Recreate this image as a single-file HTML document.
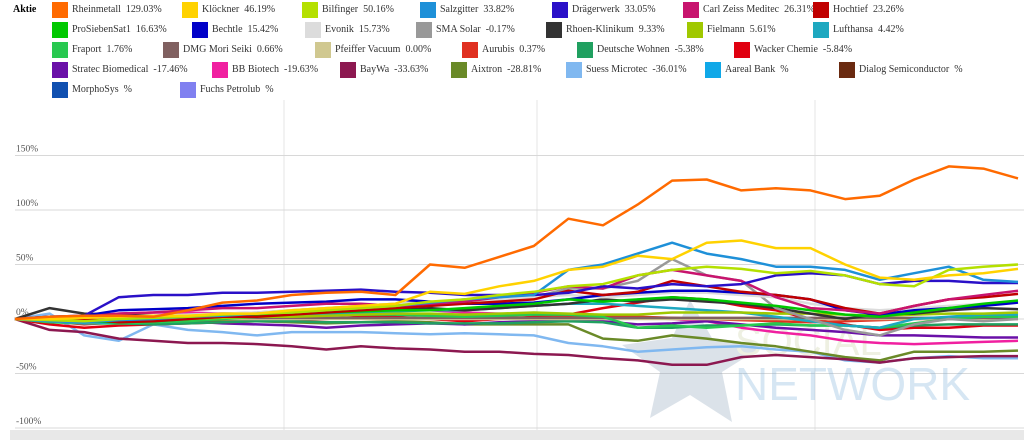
<!DOCTYPE html>
<html><head><meta charset="utf-8"><style>
body{margin:0;width:1024px;height:440px;background:#fff;overflow:hidden;position:relative;font-family:"Liberation Serif",serif;}
.lg{position:absolute;font-size:10px;color:#333;white-space:nowrap;line-height:16px}
.lg i{position:absolute;left:0;top:0;width:16px;height:16px}
.lg span{position:absolute;left:20px;top:0}
</style></head><body>
<div style="position:absolute;left:13px;top:2px;font-size:10px;font-weight:bold;line-height:16px">Aktie</div>
<div id="legend"></div>
<svg id="chart" width="1024" height="440" style="position:absolute;left:0;top:0">
<g id="grid"></g>
<g id="wm" opacity="0.3">
<polygon points="690,300 712,338 765,345 722,372 732,422 690,395 650,418 660,372 622,345 672,338" fill="#8aa0b8"/>
<text x="735" y="400" font-family="Liberation Sans,sans-serif" font-size="46" fill="#7ab0d8">NETWORK</text>
<text x="735" y="355" font-family="Liberation Sans,sans-serif" font-size="40" fill="#c8d0a0">SOCIAL</text>
</g>
<g id="lines"></g>
</svg>
<script>
const names=["Rheinmetall","Klöckner","Bilfinger","Salzgitter","Drägerwerk","Carl Zeiss Meditec","Hochtief","ProSiebenSat1","Bechtle","Evonik","SMA Solar","Rhoen-Klinikum","Fielmann","Lufthansa","Fraport","DMG Mori Seiki","Pfeiffer Vacuum","Aurubis","Deutsche Wohnen","Wacker Chemie","Stratec Biomedical","BB Biotech","BayWa","Aixtron","Suess Microtec","Aareal Bank","Dialog Semiconductor","MorphoSys","Fuchs Petrolub"];
const perf=["129.03","46.19","50.16","33.82","33.05","26.31","23.26","16.63","15.42","15.73","-0.17","9.33","5.61","4.42","1.76","0.66","0.00","0.37","-5.38","-5.84","-17.46","-19.63","-33.63","-28.81","-36.01","","","",""];
const colors=["#ff6a00","#ffd200","#b4e000","#1e90d8","#2a10c8","#c8146e","#c00000","#00c800","#0000c8","#dcdcdc","#999999","#333333","#a0c800","#1ea8c0","#28c850","#806060","#d0c890","#e03020","#20a060","#e00010","#6a10a8","#f020a0","#8c1850","#6a8a28","#80b8f0","#10a8e8","#6a2a10","#1050b0","#8080f0"];
const legendX=[52,182,302,420,552,683,813,52,192,305,416,546,687,813,52,163,315,462,577,734,52,212,340,451,566,705,839,52,180];
const legendRow=[0,0,0,0,0,0,0,1,1,1,1,1,1,1,2,2,2,2,2,2,3,3,3,3,3,3,3,4,4];
const yTicks=[150,100,50,0,-50,-100];
const s0=[0,2,3,3,2,8,15,17,22,24,25,22,50,47,57,67,92,86,105,127,128,118,120,118,110,113,128,140,138,129];
const s1=[0,0,1,2,3,3,5,5,8,10,12,14,25,23,30,35,45,48,58,55,70,72,65,65,50,38,36,40,42,46];
const s2=[0,-1,-2,0,1,2,4,5,6,8,10,12,16,18,22,25,30,32,40,45,48,46,42,44,40,32,30,45,48,50];
const s3=[0,-2,-3,-1,0,2,3,5,6,8,10,12,15,18,20,22,45,50,60,70,60,55,48,48,45,36,42,48,36,34];
const s4=[0,2,3,20,22,22,24,24,25,26,27,25,24,22,22,22,24,30,28,32,30,32,40,42,40,32,35,35,33,33];
const s5=[0,1,2,5,6,8,10,10,12,14,14,12,14,16,20,24,30,28,40,45,40,35,20,10,8,5,12,18,22,26];
const s6=[0,2,0,-3,-2,0,2,2,4,6,8,10,12,14,16,18,26,22,25,35,30,25,22,18,10,5,12,18,20,23];
const s7=[0,-1,-2,-3,-2,0,2,4,5,6,7,8,8,10,12,14,18,16,18,20,18,15,12,8,4,2,6,10,14,17];
const s8=[0,1,3,8,9,10,12,14,15,16,18,18,16,14,14,15,18,22,24,26,26,24,22,18,8,4,8,10,12,15];
const s9=[0,0,1,2,3,4,5,6,8,10,12,14,15,16,18,20,22,20,22,24,24,22,20,14,10,8,10,12,14,16];
const s10=[0,0,-2,0,2,4,5,6,8,10,12,14,16,15,18,20,28,28,35,55,40,35,10,0,-10,-15,-5,0,-2,0];
const s11=[0,10,5,4,3,4,5,5,6,7,8,8,10,8,10,12,14,18,16,18,16,14,10,5,0,5,5,8,10,9];
const s12=[0,-2,-3,-2,-1,0,1,2,2,3,4,5,5,4,5,6,5,4,4,6,6,6,5,5,4,3,4,5,5,6];
const s13=[0,-2,-4,-3,-2,0,2,3,4,5,6,7,8,8,10,12,14,14,12,10,8,6,2,-2,-6,-8,0,2,4,4];
const s14=[0,-3,-4,-4,-3,-2,0,2,3,4,4,4,3,2,3,4,4,2,-8,-6,-8,-6,-4,-6,-6,-8,-4,0,2,2];
const s15=[0,0,1,1,1,1,1,1,1,1,1,1,1,1,1,1,1,1,1,1,1,1,1,1,1,1,1,1,1,1];
const s16=[0,0,0,0,0,0,0,0,0,0,0,0,0,0,0,0,0,0,0,0,0,0,0,0,0,0,0,0,0,0];
const s17=[0,-2,-5,-3,-2,-1,0,2,4,5,6,5,4,3,2,1,2,3,2,1,0,-1,-2,-3,-2,-1,0,0,0,0];
const s18=[0,-2,-4,-4,-5,-4,-3,-2,-2,-3,-3,-3,-4,-4,-4,-3,-2,-3,-8,-8,-6,-6,-5,-6,-6,-8,-6,-5,-5,-5];
const s19=[0,-5,-8,-6,-5,-4,-3,-2,-1,0,2,2,0,-2,0,2,4,10,15,20,18,12,8,0,-5,-10,-8,-8,-6,-6];
const s20=[0,-2,-3,-2,-1,-2,-4,-5,-6,-8,-6,-5,-4,-5,-3,-2,0,-2,-5,-4,-2,-5,-8,-10,-12,-15,-15,-16,-17,-17];
const s21=[0,2,3,5,6,6,5,5,5,6,8,8,8,6,5,4,3,2,1,0,-2,-8,-12,-15,-20,-22,-23,-22,-21,-20];
const s22=[0,-10,-12,-18,-20,-22,-22,-23,-25,-28,-25,-27,-28,-30,-30,-32,-33,-36,-38,-42,-42,-35,-33,-35,-37,-40,-36,-35,-34,-34];
const s23=[0,-2,-3,-4,-4,-3,-2,-2,-3,-4,-3,-2,-3,-5,-5,-5,-5,-18,-20,-15,-18,-22,-25,-30,-35,-38,-30,-30,-30,-29];
const s24=[0,5,-15,-20,-5,-10,-12,-15,-12,-12,-12,-13,-14,-13,-14,-15,-22,-25,-30,-28,-26,-25,-28,-30,-38,-40,-36,-34,-36,-36];
const series=[s0,s1,s2,s3,s4,s5,s6,s7,s8,s9,s10,s11,s12,s13,s14,s15,s16,s17,s18,s19,s20,s21,s22,s23,s24];

const NS="http://www.w3.org/2000/svg";
const X0=15,X1=1018;
function yScale(v){return 319-v*1.09;}
function xScale(i,n){return X0+(X1-X0)*i/(n-1);}

const lg=document.getElementById('legend');
names.forEach((n,k)=>{
  const d=document.createElement('div');d.className='lg';
  d.style.left=legendX[k]+'px';d.style.top=(2+legendRow[k]*20)+'px';
  
  
  d.innerHTML='<i style="background:'+colors[k]+'"></i><span>'+n+'&nbsp; '+perf[k]+'%</span>';
  lg.appendChild(d);
});

const grid=document.getElementById('grid');
[284,537,815].forEach(x=>{
  const l=document.createElementNS(NS,'line');
  l.setAttribute('x1',x);l.setAttribute('x2',x);l.setAttribute('y1',100);l.setAttribute('y2',430);
  l.setAttribute('stroke','#e4e4e4');
  
  
  grid.appendChild(l);
});
yTicks.forEach(t=>{
  const y=yScale(t);
  const l=document.createElementNS(NS,'line');
  l.setAttribute('x1',15);l.setAttribute('x2',1024);l.setAttribute('y1',y);l.setAttribute('y2',y);
  l.setAttribute('stroke','#d8d8d8');
  
  
  grid.appendChild(l);
  const tx=document.createElementNS(NS,'text');
  tx.setAttribute('x',16);tx.setAttribute('y',y-4);tx.setAttribute('font-size','9.5');tx.setAttribute('fill','#555');
  tx.setAttribute('font-family','Liberation Serif,serif');
  tx.textContent=t+'%';
  
  
  grid.appendChild(tx);
});
const band=document.createElementNS(NS,'rect');
band.setAttribute('x',10);band.setAttribute('y',430);band.setAttribute('width',1014);band.setAttribute('height',10);band.setAttribute('fill','#e8e8e8');


grid.appendChild(band);

const lines=document.getElementById('lines');
for(let k=series.length-1;k>=0;k--){
  const s=series[k];
  const pts=s.map((v,i)=>xScale(i,s.length).toFixed(1)+','+yScale(v).toFixed(1)).join(' ');
  const p=document.createElementNS(NS,'polyline');
  p.setAttribute('points',pts);p.setAttribute('fill','none');p.setAttribute('stroke',colors[k]);
  p.setAttribute('stroke-width','2.5');p.setAttribute('stroke-linejoin','round');
  
  
  lines.appendChild(p);
}
</script>
</body></html>
